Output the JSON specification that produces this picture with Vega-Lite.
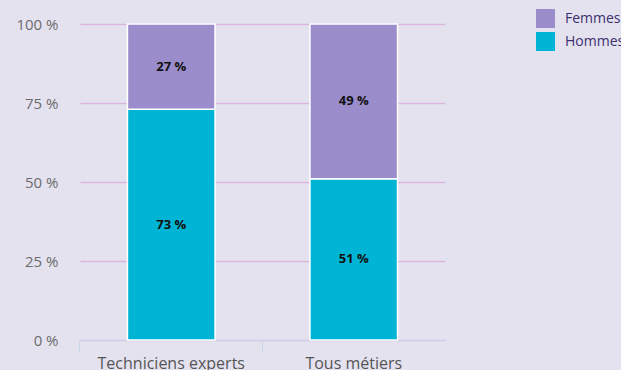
{
  "$schema": "https://vega.github.io/schema/vega-lite/v6.json",
  "autosize": "none",
  "width": 365,
  "height": 316,
  "padding": {"left": 80, "top": 24, "right": 176, "bottom": 30},
  "background": "#e5e2f0",
  "config": {
    "font": "Open Sans",
    "view": {"stroke": null},
    "axis": {"labelFont": "Open Sans"}
  },
  "data": {
    "values": [
      {"categorie": "Techniciens experts", "sexe": "Hommes", "valeur": 73},
      {"categorie": "Techniciens experts", "sexe": "Femmes", "valeur": 27},
      {"categorie": "Tous métiers", "sexe": "Hommes", "valeur": 51},
      {"categorie": "Tous métiers", "sexe": "Femmes", "valeur": 49}
    ]
  },
  "transform": [{"calculate": "datum.valeur + ' %'", "as": "etiquette"}],
  "encoding": {
    "x": {
      "field": "categorie",
      "type": "nominal",
      "title": null,
      "scale": {"paddingInner": 0.52, "paddingOuter": 0.26},
      "axis": {
        "labelAngle": 0,
        "labelFontSize": 16,
        "labelColor": "#555555",
        "labelPadding": 4,
        "domainColor": "#c9d3e8",
        "domainWidth": 1,
        "tickColor": "#c9d3e8",
        "tickSize": 11,
        "tickWidth": 1,
        "bandPosition": -0.5417
      }
    },
    "y": {
      "field": "valeur",
      "type": "quantitative",
      "stack": "zero",
      "title": null,
      "scale": {"domain": [0, 100]},
      "axis": {
        "values": [0, 25, 50, 75, 100],
        "labelExpr": "datum.value + ' %'",
        "labelFontSize": 15,
        "labelColor": "#6b6b6b",
        "labelPadding": 22,
        "domain": false,
        "ticks": false,
        "gridColor": "#dbb6da",
        "gridWidth": 1.5
      }
    },
    "order": {"field": "sexe", "sort": "descending"}
  },
  "layer": [
    {
      "mark": {"type": "bar", "stroke": "#ffffff", "strokeWidth": 1.5},
      "encoding": {
        "color": {
          "field": "sexe",
          "type": "nominal",
          "scale": {"domain": ["Femmes", "Hommes"], "range": ["#9b8dcb", "#00b4d5"]},
          "legend": {
            "title": null,
            "orient": "none",
            "legendX": 456,
            "legendY": -15,
            "symbolType": "square",
            "symbolSize": 360,
            "symbolStrokeWidth": 0,
            "symbolOpacity": 1,
            "labelFontSize": 14,
            "labelColor": "#3b2f6e",
            "labelOffset": 10,
            "rowPadding": 4
          }
        }
      }
    },
    {
      "mark": {"type": "text", "fontWeight": "bold", "fontSize": 13, "color": "#111111"},
      "encoding": {
        "y": {"field": "valeur", "type": "quantitative", "stack": "zero", "bandPosition": 0.5},
        "text": {"field": "etiquette"}
      }
    }
  ]
}
